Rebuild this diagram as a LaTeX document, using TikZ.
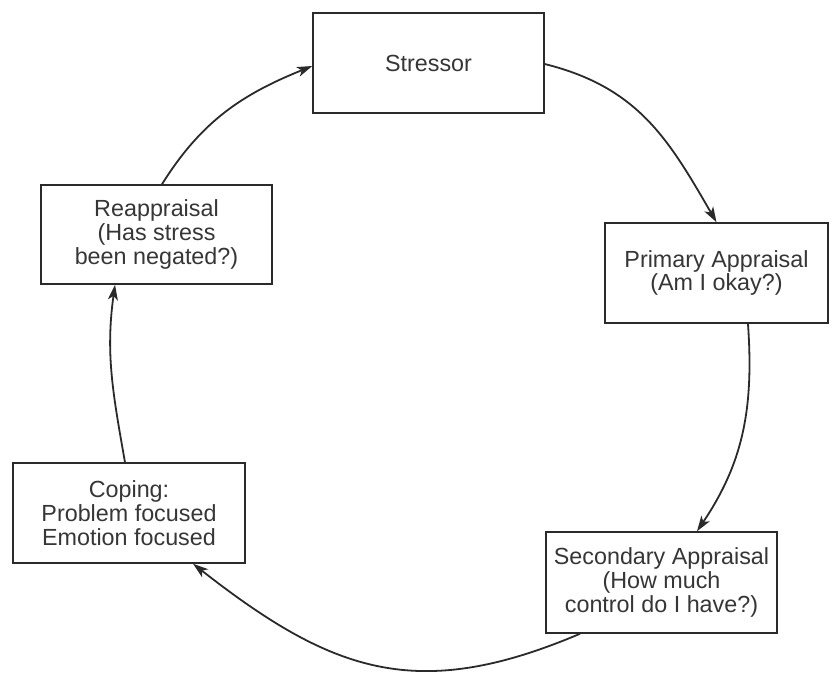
\documentclass[tikz,border=0pt]{standalone}
\usepackage{fontspec}
\setmainfont{Liberation Sans}
\usetikzlibrary{arrows.meta}
\definecolor{ink}{HTML}{2A2A2A}
\definecolor{txt}{HTML}{363636}
\tikzset{
  stagebox/.style={draw=ink, line width=1.1pt, fill=white, align=center,
    text=txt, inner sep=0pt,
    font=\fontsize{17.5}{17.8}\selectfont},
  cycle/.style={draw=ink, line width=1.35pt,
    -{Stealth[length=11.5pt,width=7.5pt,inset=3pt]}},
}
\begin{document}
\begin{tikzpicture}[x=0.75pt,y=-0.75pt]
  \useasboundingbox (0,0) rectangle (830,672);

  % the five stages of the appraisal cycle
  \node[stagebox, minimum width=173.25pt, minimum height=75pt] (stressor) at (428.5,63) {Stressor};
  \node[stagebox, minimum width=167.25pt, minimum height=75pt] (primary) at (716.5,273)
    {Primary Appraisal\\(Am I okay?)};
  \node[stagebox, minimum width=173.25pt, minimum height=75.75pt] (secondary) at (661.5,582.5)
    {Secondary Appraisal\\(How much\\control do I have?)};
  \node[stagebox, minimum width=174pt, minimum height=75pt] (coping) at (129,513)
    {Coping:\\Problem focused\\Emotion focused};
  \node[stagebox, minimum width=173.25pt, minimum height=74.25pt] (reapp) at (156.5,234.5)
    {Reappraisal\\(Has stress\\been negated?)};

  % curved arrows running clockwise round the cycle
  \draw[cycle] ([yshift=-0.75pt]stressor.east) to[out=-14, in=120, looseness=1.05] (primary.north);
  \draw[cycle] ([xshift=23.6pt]primary.south) to[out=-86, in=56] ([xshift=26.6pt]secondary.north);
  \draw[cycle] ([xshift=-61.1pt]secondary.south) to[out=203, in=-38, looseness=1.15] ([xshift=48pt]coping.south);
  \draw[cycle] ([xshift=-3pt]coping.north) to[out=100, in=-98] ([xshift=-31.1pt]reapp.south);
  \draw[cycle] ([xshift=4.1pt]reapp.north) to[out=58, in=202] ([yshift=-2.25pt]stressor.west);
\end{tikzpicture}
\end{document}
